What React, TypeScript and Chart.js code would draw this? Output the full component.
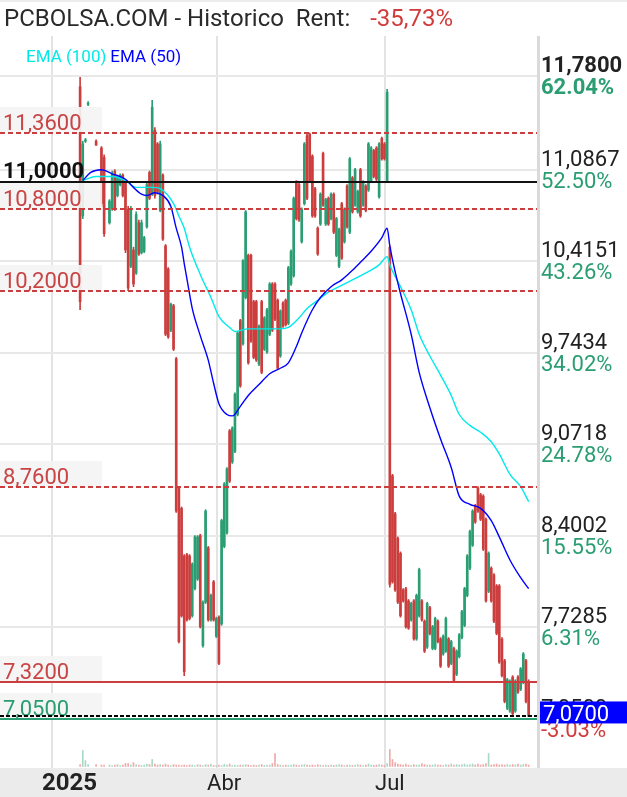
import React, { useEffect, useRef } from 'react';
import { Chart, registerables } from 'chart.js';
Chart.register(...registerables);

// ---------- DATA ----------
const dayIndex = [0, 1, 2, 3, 6, 8, 9,
  11, 12, 13, 14, 15, 16, 17, 18, 19, 20,
  21, 22, 23, 24, 25, 26, 27, 28, 29, 30,
  31, 32, 33, 34, 35, 36, 37, 38, 39, 40,
  41, 42, 43, 44, 45, 46, 47, 48, 49, 50,
  51, 52, 53, 54, 55, 56, 57, 58, 59, 60,
  61, 62, 63, 64, 65, 66, 67, 68, 69, 70,
  71, 72, 73, 74, 75, 76, 77, 78, 79, 80,
  81, 82, 83, 84, 85, 86, 87, 88, 89, 90,
  91, 92, 93, 94, 95, 96, 97, 98, 99, 100,
  101, 102, 103, 104, 105, 106, 107, 108, 109, 110,
  111, 112, 113, 114, 115, 116, 117, 118, 119, 120,
  121, 122, 123, 124, 125, 126, 127, 128, 129, 130,
  131, 132, 133, 134, 135, 136, 137, 138, 139, 140,
  141, 142, 143, 144, 145, 146, 147, 148, 149, 150,
  151, 152, 153, 154, 155, 156, 157, 158, 159, 160,
  161, 162, 163, 164, 165, 166, 167, 168];

const openP = [11.70, 10.75, 11.30, 11.57, 11.30, 11.25, 11.18,
  10.70, 10.80, 11.08, 10.90, 10.98, 11.05, 10.99, 10.80, 10.38, 10.50,
  10.33, 10.70, 10.48, 10.49, 10.67, 11.07, 10.91, 11.38, 11.28, 10.79,
  11.05, 10.53, 10.36, 9.91, 10.09, 9.70, 8.75, 8.60, 8.25, 8.26,
  8.25, 7.81, 8.01, 8.08, 8.40, 7.59, 7.91, 8.31, 7.78, 8.06,
  7.66, 7.80, 7.75, 8.32, 8.42, 9.17, 8.94, 9.02, 9.29, 9.98,
  9.81, 10.15, 10.46, 10.46, 10.12, 10.12, 9.66, 10.12, 9.77, 9.75,
  9.88, 10.25, 10.25, 10.13, 9.72, 10.11, 10.13, 9.96, 10.25, 10.31,
  11.00, 10.98, 10.56, 10.84, 11.34, 11.35, 11.19, 10.95, 10.66, 10.69,
  11.21, 10.69, 10.88, 10.73, 10.91, 10.46, 10.38, 10.84, 10.56, 10.97,
  10.63, 11.03, 10.83, 10.78, 11.09, 10.83, 10.97, 10.94, 11.01, 11.23,
  11.25, 10.89, 11.32, 11.28, 11.01, 10.52, 8.84, 8.56, 8.38, 8.27,
  8.00, 8.01, 7.92, 7.78, 7.92, 7.64, 7.81, 7.92, 7.77, 7.58,
  7.87, 7.57, 7.57, 7.77, 7.64, 7.53, 7.55, 7.64, 7.46, 7.57,
  7.38, 7.51, 7.65, 7.74, 7.96, 8.16, 8.33, 8.62, 8.75, 8.70,
  8.69, 8.52, 7.99, 8.16, 8.11, 8.03, 8.03, 7.64, 7.48, 7.13,
  7.11, 7.36, 7.11, 7.36, 7.27, 7.32, 7.48, 7.33];

const highP = [11.77, 11.30, 11.32, 11.59, 11.31, 11.26, 11.20,
  10.87, 11.08, 11.09, 11.05, 11.06, 11.06, 11.00, 10.82, 10.82, 10.52,
  10.78, 10.72, 10.72, 10.60, 11.00, 11.08, 11.60, 11.40, 11.29, 11.30,
  11.06, 10.54, 10.37, 10.11, 10.10, 9.71, 8.76, 8.61, 8.26, 8.27,
  8.26, 8.20, 8.40, 8.40, 8.41, 7.92, 8.59, 8.32, 7.97, 8.07,
  7.80, 7.81, 8.52, 8.79, 8.90, 9.18, 9.20, 9.45, 9.90, 9.99,
  10.43, 10.79, 10.47, 10.47, 10.13, 10.13, 9.95, 10.13, 10.01, 10.07,
  10.26, 10.26, 10.26, 10.14, 10.06, 10.12, 10.14, 10.38, 10.50, 10.89,
  11.01, 10.99, 10.81, 11.29, 11.35, 11.36, 11.20, 10.96, 10.67, 10.92,
  11.22, 10.88, 10.89, 10.92, 10.92, 10.74, 10.66, 10.85, 10.81, 10.98,
  11.18, 11.04, 11.10, 10.94, 11.10, 11.01, 10.98, 11.29, 11.26, 11.24,
  11.26, 11.29, 11.33, 11.29, 11.68, 10.53, 8.85, 8.57, 8.39, 8.28,
  8.01, 8.02, 7.93, 7.91, 7.93, 7.97, 8.16, 7.93, 7.78, 7.91,
  7.88, 7.74, 7.80, 7.78, 7.65, 7.67, 7.80, 7.65, 7.63, 7.58,
  7.56, 7.68, 7.85, 8.02, 8.26, 8.44, 8.59, 8.63, 8.76, 8.71,
  8.70, 8.53, 8.28, 8.17, 8.12, 8.04, 8.04, 7.65, 7.49, 7.35,
  7.34, 7.37, 7.34, 7.37, 7.43, 7.54, 7.49, 7.34];

const lowP = [10.06, 10.73, 11.29, 11.56, 11.27, 10.82, 10.60,
  10.69, 10.79, 10.79, 10.89, 10.97, 10.89, 10.48, 10.20, 10.37, 10.23,
  10.32, 10.46, 10.47, 10.48, 10.66, 10.87, 10.90, 10.88, 10.91, 10.78,
  10.57, 9.87, 9.85, 9.90, 9.76, 8.57, 7.61, 7.80, 7.37, 7.77,
  7.78, 7.80, 8.00, 8.07, 7.72, 7.58, 7.90, 7.77, 7.77, 7.77,
  7.65, 7.45, 7.74, 8.31, 8.41, 8.79, 8.93, 9.01, 9.28, 9.49,
  9.80, 10.14, 9.66, 9.82, 9.70, 9.68, 9.65, 9.59, 9.76, 9.74,
  9.87, 9.90, 9.98, 9.62, 9.71, 9.93, 9.94, 9.95, 10.24, 10.30,
  10.72, 10.71, 10.55, 10.83, 10.87, 11.00, 10.74, 10.74, 10.46, 10.68,
  10.82, 10.68, 10.68, 10.72, 10.62, 10.45, 10.37, 10.43, 10.55, 10.66,
  10.62, 10.77, 10.82, 10.77, 10.74, 10.82, 10.78, 10.93, 11.00, 11.03,
  11.01, 10.88, 11.16, 11.16, 11.00, 8.02, 8.05, 7.99, 7.90, 7.80,
  7.91, 7.72, 7.71, 7.77, 7.63, 7.63, 7.80, 7.77, 7.54, 7.57,
  7.67, 7.56, 7.56, 7.61, 7.43, 7.52, 7.54, 7.43, 7.45, 7.32,
  7.37, 7.50, 7.64, 7.73, 7.95, 8.15, 8.32, 8.49, 8.57, 8.51,
  8.29, 7.91, 7.98, 7.91, 7.76, 7.67, 7.46, 7.36, 7.17, 7.12,
  7.10, 7.08, 7.10, 7.24, 7.26, 7.31, 7.17, 7.07];

const closeP = [10.12, 11.28, 11.31, 11.58, 11.27, 10.84, 10.62,
  10.86, 11.06, 10.80, 11.04, 11.05, 10.90, 10.50, 10.22, 10.80, 10.25,
  10.76, 10.47, 10.70, 10.59, 10.98, 10.88, 11.55, 10.90, 10.93, 11.28,
  10.58, 9.88, 9.86, 10.10, 9.77, 8.58, 7.62, 7.81, 7.40, 7.78,
  7.79, 8.19, 8.39, 8.39, 7.73, 7.91, 8.58, 7.78, 7.96, 7.78,
  7.79, 7.46, 8.51, 8.78, 8.89, 8.80, 9.19, 9.44, 9.89, 9.50,
  10.42, 10.78, 9.67, 9.83, 9.71, 9.69, 9.94, 9.60, 10.00, 10.06,
  10.25, 9.91, 9.99, 9.63, 10.05, 9.94, 9.95, 10.37, 10.49, 10.88,
  10.73, 10.72, 10.80, 11.28, 10.88, 11.01, 10.75, 10.75, 10.47, 10.91,
  10.83, 10.87, 10.69, 10.91, 10.63, 10.73, 10.65, 10.44, 10.80, 10.67,
  11.17, 10.78, 11.09, 10.93, 10.75, 11.00, 10.79, 11.28, 11.25, 11.04,
  11.02, 11.28, 11.17, 11.17, 11.66, 8.04, 8.06, 8.00, 7.91, 7.81,
  7.92, 7.73, 7.72, 7.90, 7.64, 7.96, 8.15, 7.78, 7.55, 7.90,
  7.68, 7.73, 7.79, 7.62, 7.44, 7.66, 7.79, 7.44, 7.62, 7.33,
  7.55, 7.67, 7.84, 8.01, 8.25, 8.43, 8.58, 8.50, 8.58, 8.52,
  8.30, 7.92, 8.27, 7.92, 7.77, 7.68, 7.47, 7.37, 7.18, 7.34,
  7.33, 7.09, 7.33, 7.25, 7.42, 7.53, 7.18, 7.07];

const volume = [2000, 16000, 6000, 2000, 2000, 1500, 1500,
  1500, 1000, 1500, 2000, 1000, 1500, 3000, 3000, 1500, 4000,
  2000, 1500, 1000, 1500, 2500, 2000, 7000, 2500, 1500, 2000,
  1500, 2500, 1500, 1000, 2000, 1500, 1500, 1000, 1500, 1000,
  1500, 1500, 1000, 2000, 1500, 1000, 2000, 1500, 2500, 1000,
  1000, 1500, 1000, 2000, 1500, 2500, 1000, 1500, 1000, 1500,
  1500, 2000, 1500, 1000, 1500, 1000, 1500, 2000, 1000, 1500,
  1500, 3000, 13000, 2000, 1500, 1000, 1500, 1000, 1500, 2000,
  1500, 1000, 1500, 2000, 1500, 1000, 1500, 1000, 2000, 1500,
  1000, 1500, 1000, 1500, 1000, 1500, 2000, 1500, 1000, 1500,
  1500, 1000, 1500, 2000, 1500, 1000, 1500, 2500, 1500, 1000,
  1500, 2000, 1500, 1000, 3000, 17000, 7000, 4000, 2500, 2000,
  1500, 2500, 1500, 1000, 2000, 1500, 1500, 3000, 2000, 1500,
  1500, 1500, 2000, 1500, 1500, 1000, 2000, 1500, 2500, 1500,
  2000, 1500, 2000, 2500, 1500, 2000, 2500, 1500, 2500, 1500,
  2000, 3000, 13000, 1500, 2000, 2500, 1500, 2000, 1500, 2000,
  1500, 2000, 1500, 2500, 1500, 2000, 2500, 1500];

const ema100Idx = [1, 6, 12, 17, 21, 27, 30, 35, 37, 39,
  41, 45, 49, 52, 56, 58, 63, 67, 75, 78,
  82, 85, 89, 93, 97, 100, 104, 108, 112, 115,
  116, 120, 124, 127, 131, 135, 139, 142, 146, 150,
  154, 157, 161, 165, 168];
const ema100 = [11.01, 11.04, 11.04, 11.01, 10.96, 10.96, 10.95, 10.84, 10.75, 10.66,
  10.52, 10.32, 10.15, 10.01, 9.93, 9.90, 9.92, 9.92, 9.92, 9.93,
  10.00, 10.07, 10.13, 10.19, 10.23, 10.26, 10.30, 10.34, 10.39, 10.45,
  10.39, 10.23, 10.06, 9.88, 9.72, 9.58, 9.43, 9.29, 9.21, 9.16,
  9.09, 9.00, 8.85, 8.76, 8.65];

const ema50Idx = [1, 4, 8, 12, 17, 20, 23, 25, 28, 31,
  34, 36, 38, 39, 40, 42, 45, 48, 50, 52,
  55, 57, 60, 63, 67, 71, 75, 78, 81, 83,
  87, 90, 94, 98, 102, 105, 109, 113, 115, 116,
  118, 120, 124, 127, 131, 135, 139, 142, 146, 150,
  154, 157, 161, 165, 168];
const ema50 = [11.01, 11.07, 11.09, 11.06, 11.02, 10.96, 10.91, 10.90, 10.92, 10.90,
  10.82, 10.66, 10.52, 10.40, 10.29, 10.07, 9.87, 9.69, 9.52, 9.37,
  9.29, 9.28, 9.35, 9.43, 9.51, 9.59, 9.63, 9.67, 9.79, 9.89,
  10.06, 10.15, 10.23, 10.28, 10.35, 10.41, 10.49, 10.59, 10.66, 10.53,
  10.34, 10.18, 9.88, 9.60, 9.34, 9.11, 8.90, 8.69, 8.63, 8.60,
  8.51, 8.39, 8.22, 8.09, 8.01];

const xTickPos = [-10.5, 51.3, 114.2];
const xTickLabels = ['2025', 'Abr', 'Jul'];

const yTickVals = [11.78, 11.0867, 10.4151, 9.7434, 9.0718, 8.4002, 7.7285, 7.05];
const yTickPriceLabels = ['11,7800', '11,0867', '10,4151', '9,7434', '9,0718', '8,4002', '7,7285', '7,0500'];
const yTickPctLabels = ['62.04%', '52.50%', '43.26%', '34.02%', '24.78%', '15.55%', '6.31%', '-3.03%'];

const levelValues = [11.36, 11.00, 10.80, 10.20, 8.76, 7.32, 7.05];
const levelLabels = ['11,3600', '11,0000', '10,8000', '10,2000', '8,7600', '7,3200', '7,0500'];

const titleText = 'PCBOLSA.COM - Historico  Rent:';
const rentText = '-35,73%';
const lastPriceLabel = '7,0700';
const legendLabels = ['EMA (100)', 'EMA (50)'];

// ---------- STYLE ----------
const FONT = 'Roboto, "Noto Sans", sans-serif';
const GREEN = '#2a9d72';
const RED = '#cc3d3d';
const VOL_GREEN = '#a9d9c5';
const VOL_RED = '#f2a9a9';
const CYAN = '#00eaea';
const BLUE = '#0000ff';

const levelStyles = [
  { line: RED, dash: [5, 3], text: '#c94444', box: true, bold: false },
  { line: '#111111', dash: [], text: '#111111', box: false, bold: true },
  { line: RED, dash: [5, 3], text: '#c94444', box: true, bold: false },
  { line: RED, dash: [5, 3], text: '#c94444', box: true, bold: false },
  { line: RED, dash: [5, 3], text: '#c94444', box: true, bold: false },
  { line: RED, dash: [], text: '#c94444', box: true, bold: false },
  { line: GREEN, dash: [], text: GREEN, box: true, bold: false },
];

const overlayPlugin = {
  id: 'overlay',
  beforeDraw(chart: any) {
    const { ctx, width, height, chartArea } = chart;
    ctx.save();
    ctx.fillStyle = '#ffffff';
    ctx.fillRect(0, 0, width, height);
    ctx.fillStyle = '#ececec';
    ctx.fillRect(0, 0, width, 2);
    ctx.fillStyle = '#ebebeb';
    ctx.fillRect(0, chartArea.bottom, width, height - chartArea.bottom);
    ctx.restore();
  },
  afterDatasetsDraw(chart: any) {
    const { ctx, chartArea: ca, scales } = chart;
    const y = scales.y;
    ctx.save();
    // label boxes + texts
    levelValues.forEach((v, i) => {
      const st = levelStyles[i];
      const py = Math.round(y.getPixelForValue(v));
      if (st.box) {
        ctx.fillStyle = 'rgba(244,244,244,0.92)';
        ctx.fillRect(0, py - 26, 102, 25);
      }
      ctx.fillStyle = st.text;
      ctx.font = `${st.bold ? 'bold ' : ''}22px ${FONT}`;
      ctx.textBaseline = 'alphabetic';
      ctx.textAlign = 'left';
      ctx.fillText(levelLabels[i], 3, py - (st.bold ? 4 : 3));
    });
    // level lines
    levelValues.forEach((v, i) => {
      const st = levelStyles[i];
      const py = Math.round(y.getPixelForValue(v));
      ctx.strokeStyle = st.line;
      ctx.lineWidth = 2;
      ctx.setLineDash(st.dash);
      ctx.beginPath();
      ctx.moveTo(ca.left, py);
      ctx.lineTo(ca.right, py);
      ctx.stroke();
    });
    // last price dashed line
    const last = closeP[closeP.length - 1];
    const lp = Math.round(y.getPixelForValue(last));
    ctx.strokeStyle = '#000000';
    ctx.lineWidth = 2;
    ctx.setLineDash([4, 2]);
    ctx.beginPath();
    ctx.moveTo(ca.left, lp);
    ctx.lineTo(ca.right, lp);
    ctx.stroke();
    ctx.setLineDash([]);
    ctx.restore();
  },
  afterDraw(chart: any) {
    const { ctx, chartArea: ca, scales, width } = chart;
    const y = scales.y;
    const x = scales.x;
    ctx.save();
    // right border of plot
    ctx.fillStyle = '#dadada';
    ctx.fillRect(ca.right - 1, ca.top, 3, ca.bottom - ca.top);

    // title
    ctx.textAlign = 'left';
    ctx.textBaseline = 'alphabetic';
    ctx.font = `24px ${FONT}`;
    ctx.fillStyle = '#2a2a2a';
    ctx.fillText(titleText, 4, 26);
    const tw = ctx.measureText(titleText).width;
    ctx.fillStyle = '#d13b3b';
    ctx.fillText(rentText, 4 + tw + 20, 26);

    // legend
    ctx.font = `17px ${FONT}`;
    ctx.fillStyle = CYAN;
    ctx.fillText(legendLabels[0], 26, 62);
    const lw = ctx.measureText(legendLabels[0]).width;
    ctx.fillStyle = BLUE;
    ctx.fillText(legendLabels[1], 26 + lw + 4, 62);

    // right axis labels
    yTickVals.forEach((v, i) => {
      const gy = y.getPixelForValue(v);
      const bold = i === 0;
      ctx.font = `${bold ? 'bold ' : ''}22px ${FONT}`;
      ctx.fillStyle = '#222222';
      ctx.fillText(yTickPriceLabels[i], 541, gy - 4);
      ctx.fillStyle = yTickPctLabels[i].startsWith('-') ? '#d13b3b' : GREEN;
      ctx.fillText(yTickPctLabels[i], 541, gy + 18);
    });

    // last price box
    const last = closeP[closeP.length - 1];
    const lp = y.getPixelForValue(last);
    ctx.fillStyle = '#0000ff';
    ctx.fillRect(540, lp - 15, width - 540, 22);
    ctx.fillStyle = '#ffffff';
    ctx.font = `22px ${FONT}`;
    ctx.fillText(lastPriceLabel, 543, lp + 5);

    // x labels
    xTickPos.forEach((v, i) => {
      const px = x.getPixelForValue(v);
      ctx.font = i === 0 ? `bold 24px ${FONT}` : `22px ${FONT}`;
      ctx.fillStyle = '#222222';
      ctx.fillText(xTickLabels[i], px - 10, 790);
    });
    ctx.restore();
  },
};

export default function App() {
  const ref = useRef<HTMLCanvasElement | null>(null);
  useEffect(() => {
    if (!ref.current) return;
    const isUp = dayIndex.map((_, i) => closeP[i] >= openP[i]);
    const wickData = dayIndex.map((d, i) => ({ x: d, y: [lowP[i], highP[i]] }));
    const bodyData = dayIndex.map((d, i) => ({ x: d, y: [openP[i], closeP[i]] }));
    const volData = dayIndex.map((d, i) => ({ x: d, y: volume[i] }));
    const candleColors = isUp.map((u) => (u ? GREEN : RED));
    const volColors = isUp.map((u) => (u ? VOL_GREEN : VOL_RED));

    const chart = new Chart(ref.current, {
      type: 'bar',
      data: {
        datasets: [
          {
            type: 'line',
            label: 'EMA (50)',
            data: ema50Idx.map((d, i) => ({ x: d, y: ema50[i] })),
            borderColor: BLUE,
            borderWidth: 1.4,
            pointRadius: 0,
            cubicInterpolationMode: 'monotone',
            yAxisID: 'y',
          } as any,
          {
            type: 'line',
            label: 'EMA (100)',
            data: ema100Idx.map((d, i) => ({ x: d, y: ema100[i] })),
            borderColor: CYAN,
            borderWidth: 1.4,
            pointRadius: 0,
            cubicInterpolationMode: 'monotone',
            yAxisID: 'y',
          } as any,
          {
            type: 'bar',
            label: 'body',
            data: bodyData as any,
            backgroundColor: candleColors,
            barThickness: 2,
            grouped: false,
            minBarLength: 1,
            yAxisID: 'y',
          } as any,
          {
            type: 'bar',
            label: 'wick',
            data: wickData as any,
            backgroundColor: candleColors,
            barThickness: 1,
            grouped: false,
            yAxisID: 'y',
          } as any,
          {
            type: 'bar',
            label: 'vol',
            data: volData as any,
            backgroundColor: volColors,
            barThickness: 1,
            grouped: false,
            yAxisID: 'yv',
          } as any,
        ],
      },
      options: {
        responsive: false,
        animation: false,
        events: [],
        layout: { padding: { top: 36, left: 0, right: 0, bottom: 0 } },
        plugins: { legend: { display: false }, tooltip: { enabled: false }, title: { display: false } },
        scales: {
          x: {
            type: 'linear',
            min: -30,
            max: 171.5,
            offset: false,
            grid: { color: '#e3e3e3', lineWidth: 2, drawTicks: false, offset: false },
            border: { display: false },
            ticks: { display: false },
            afterBuildTicks: (s: any) => { s.ticks = xTickPos.map((v) => ({ value: v })); },
            afterFit: (s: any) => { s.height = 29; },
          } as any,
          y: {
            type: 'linear',
            position: 'right',
            min: 6.691,
            max: 12.073,
            grid: { color: '#e8e8e8', lineWidth: 2, drawTicks: false },
            border: { display: false },
            ticks: { display: false },
            afterBuildTicks: (s: any) => { s.ticks = yTickVals.map((v) => ({ value: v })); },
            afterFit: (s: any) => { s.width = 89; },
          } as any,
          yv: {
            type: 'linear',
            display: false,
            min: -1500,
            max: 730500,
          } as any,
        },
      },
      plugins: [overlayPlugin],
    });
    return () => chart.destroy();
  }, []);

  return (
    <div style={{ position: 'fixed', left: 0, top: 0, width: 627, height: 797, background: '#fff' }}>
      <canvas ref={ref} width={627} height={797} style={{ display: 'block', width: 627, height: 797 }} />
    </div>
  );
}
